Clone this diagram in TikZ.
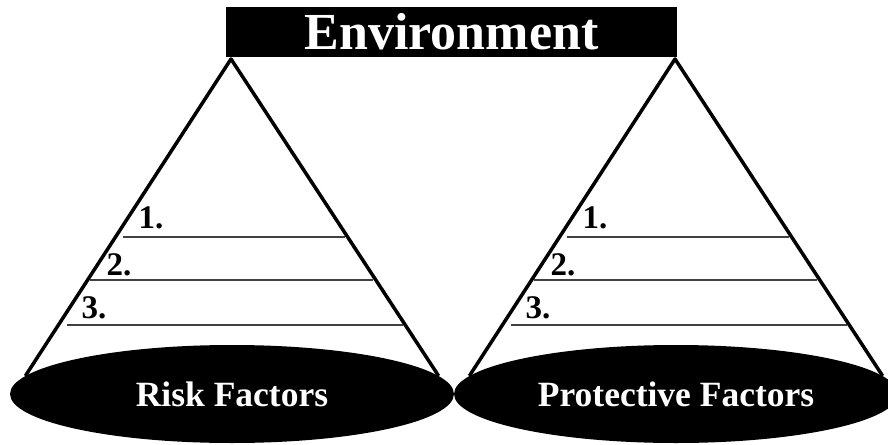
\documentclass[tikz,border=0pt]{standalone}
\usepackage{fontspec}
\setmainfont{Liberation Serif}
\usetikzlibrary{shapes.geometric}

\begin{document}
\begin{tikzpicture}[x=1pt, y=-1pt,
  cone/.style={line width=3.5pt, line join=round},
  rule/.style={line width=1.5pt, black!75},
  base/.style={ellipse, fill=black, text=white, inner sep=0pt,
    minimum width=444pt, minimum height=98pt,
    font=\fontsize{35.5}{35.5}\selectfont\bfseries},
  num/.style={anchor=base west, font=\fontsize{33}{33}\selectfont\bfseries}]
  \useasboundingbox (0,0) rectangle (888,444);

  % Title bar
  \node[fill=black, text=white, inner sep=0pt, minimum width=451pt,
    minimum height=50pt, font=\fontsize{52}{52}\selectfont\bfseries]
    (env) at (451.5,32) {Environment};

  % Bases
  \node[base] (risk) at (232,394) {Risk Factors};
  \node[base] (prot) at (676,394) {Protective Factors};

  % Cones
  \coordinate (apexL) at (231,59);
  \coordinate (apexR) at (675,59);
  \draw[cone] (risk.175) -- (apexL) -- (risk.5);
  \draw[cone] (prot.175) -- (apexR) -- (prot.5);

  % Numbered rules
  \foreach \dx in {0, 444} {
    \begin{scope}[xshift=\dx pt]
      \foreach \y/\xa/\xb/\xn/\yn/\n in {237/123/345/135/228/1, 280/90/373/103/275/2, 325/67/403/78/318/3} {
        \draw[rule] (\xa,\y) -- (\xb,\y);
        \node[num] (n\n) at (\xn,\yn) {\n.};
      }
    \end{scope}
  }
\end{tikzpicture}
\end{document}
